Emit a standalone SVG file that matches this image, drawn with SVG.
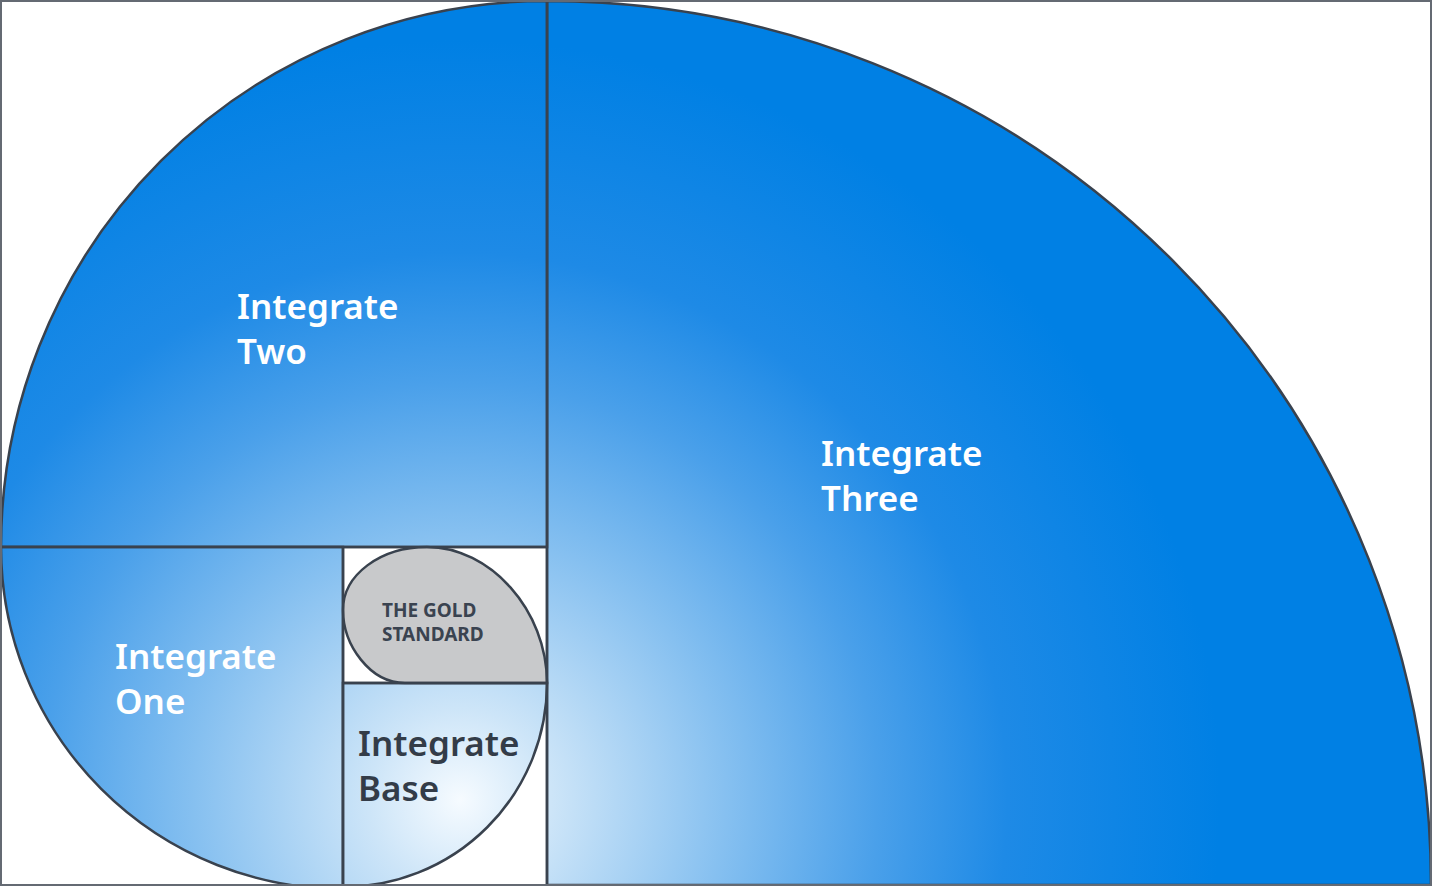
<svg xmlns="http://www.w3.org/2000/svg" width="1432" height="886" viewBox="0 0 1432 886">
  <style>
    .seg { stroke: #39424e; stroke-width: 2.5; }
    .lbl { font-family: "Noto Sans", "Open Sans", sans-serif; font-size: 35px; font-weight: 600; fill: #ffffff; }
    .dark { fill: #333c48; }
    .gold { font-family: "Noto Sans", "Open Sans", sans-serif; font-size: 19px; font-weight: 700; fill: #3a4350; }
    .line { stroke: #39424e; stroke-width: 2.5; fill: none; }
  </style>
  <defs>
    <radialGradient id="g" gradientUnits="userSpaceOnUse" cx="460" cy="800" r="760">
      <stop offset="0" stop-color="#f6fbff"/>
      <stop offset="0.12" stop-color="#cde5f8"/>
      <stop offset="0.35" stop-color="#86c0f0"/>
      <stop offset="0.55" stop-color="#4aa0ea"/>
      <stop offset="0.72" stop-color="#1e8ae6"/>
      <stop offset="1" stop-color="#0080e4"/>
    </radialGradient>
    <clipPath id="c"><rect x="0" y="0" width="1432" height="886"/></clipPath>
  </defs>
  <rect x="0" y="0" width="1432" height="886" fill="#ffffff"/>
  <g clip-path="url(#c)">
    <g id="integrate-three">
      <path class="seg" fill="url(#g)" d="M547,885 L547,1 A884,884 0 0 1 1431,885 Z"/>
      <text class="lbl" x="821" y="466">Integrate</text>
      <text class="lbl" x="821" y="511">Three</text>
    </g>
    <g id="integrate-two">
      <path class="seg" fill="url(#g)" d="M547,547 L1,547 A546,546 0 0 1 547,1 Z"/>
      <text class="lbl" x="237" y="319">Integrate</text>
      <text class="lbl" x="237" y="364">Two</text>
    </g>
    <g id="integrate-one">
      <path class="seg" fill="url(#g)" d="M343,547 L1,547 A342,342 0 0 0 343,889 Z"/>
      <text class="lbl" x="115" y="669">Integrate</text>
      <text class="lbl" x="115" y="714">One</text>
    </g>
    <g id="integrate-base">
      <path class="seg" fill="url(#g)" d="M343,683 L547,683 A204,204 0 0 1 343,887 Z"/>
      <text class="lbl dark" x="358" y="756">Integrate</text>
      <text class="lbl dark" x="358" y="801">Base</text>
    </g>
    <g id="gold-standard">
      <path class="seg" fill="#c8c9cb" d="M547,683 L405,683 C370,683 343,645 343,610 C343,575 380,547 427,547 C490,547 547,610 547,683 Z"/>
      <text class="gold" x="382" y="617">THE GOLD</text>
      <text class="gold" x="382" y="641">STANDARD</text>
    </g>
    <g id="connectors">
      <line class="line" x1="547" y1="0" x2="547" y2="886"/>
      <line class="line" x1="0" y1="547" x2="547" y2="547"/>
      <line class="line" x1="343" y1="547" x2="343" y2="886"/>
      <line class="line" x1="343" y1="683" x2="547" y2="683"/>
    </g>
  </g>
  <rect x="1" y="1" width="1430" height="884" fill="none" stroke="#646a73" stroke-width="2"/>
</svg>
